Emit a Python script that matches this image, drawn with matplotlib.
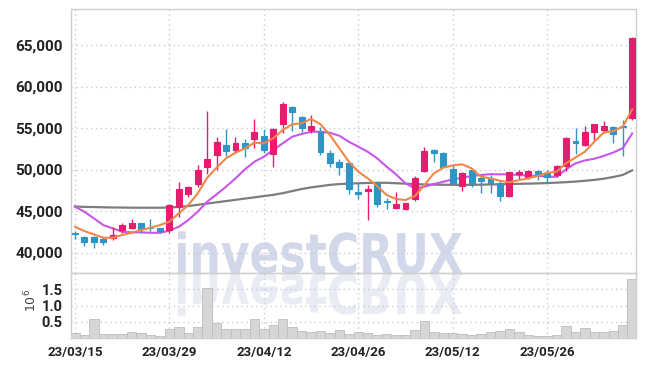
import matplotlib
matplotlib.use("Agg")
import matplotlib.pyplot as plt
import numpy as np
from matplotlib.textpath import TextPath
from matplotlib.patches import PathPatch
from matplotlib.font_manager import FontProperties
from matplotlib.transforms import Affine2D, IdentityTransform

# daily OHLC (KRW), 60 trading days
opens = [42300, 41900, 41900, 41650, 41750, 42700, 42900, 43500, 43000, 42950,
         42700, 45500, 47100, 48200, 50350, 51750, 52950, 52350, 53150, 53700,
         54050, 51850, 55500, 57550, 56300, 54800, 54500, 52000, 50950, 50750,
         47350, 47450, 48350, 46150, 45400, 45200, 46450, 49850, 52350, 52050,
         50050, 48000, 49950, 48950, 49000, 48400, 46850, 49450, 49050, 49800,
         49550, 49400, 50400, 53450, 52950, 54500, 54800, 55100, 55200, 56250]
highs = [42600, 42000, 41950, 41900, 43100, 43500, 44100, 43600, 44000, 43000,
         45800, 48500, 48050, 50550, 57000, 53950, 54850, 53950, 53650, 56100,
         54850, 55000, 58100, 57650, 56500, 56550, 55150, 52350, 51250, 50800,
         48350, 48150, 48450, 46550, 47350, 46000, 49200, 52750, 52450, 52100,
         50550, 49750, 50150, 49150, 49350, 48750, 49750, 49950, 49950, 50000,
         50000, 50500, 53900, 54950, 55300, 55500, 55850, 55250, 55950, 65950]
lows = [41600, 40800, 40500, 40900, 41500, 42400, 42800, 42400, 42600, 42300,
        42400, 44300, 46700, 47900, 49450, 49950, 51650, 51950, 51550, 52600,
        51950, 50350, 54350, 54650, 54550, 54350, 51750, 50250, 49400, 47000,
        46500, 43900, 45500, 45200, 45300, 45150, 46200, 49750, 50950, 50250,
        48100, 47450, 47900, 47150, 47150, 46200, 46700, 48800, 48800, 48750,
        48350, 49150, 49850, 51850, 52800, 53550, 54450, 53200, 51650, 56000]
closes = [42200, 41300, 41300, 41300, 42100, 43300, 43500, 42850, 42900, 42600,
          45700, 47600, 47850, 49950, 51250, 53350, 52250, 53150, 52600, 54500,
          52350, 54900, 57900, 56950, 54950, 55250, 52150, 50800, 50350, 47650,
          47050, 47650, 45850, 46100, 45850, 45950, 48950, 52250, 52000, 50350,
          48350, 49550, 48350, 48650, 48400, 46850, 49650, 49750, 49800, 49350,
          49150, 50450, 53750, 53150, 54500, 55450, 55200, 54300, 55150, 65900]
# volume, millions of shares
volumes = [0.16, 0.10, 0.57, 0.13, 0.13, 0.13, 0.20, 0.16, 0.10, 0.06,
           0.28, 0.35, 0.16, 0.35, 1.55, 0.47, 0.28, 0.28, 0.28, 0.60,
           0.28, 0.41, 0.60, 0.35, 0.23, 0.20, 0.21, 0.15, 0.26, 0.13,
           0.17, 0.15, 0.08, 0.11, 0.10, 0.10, 0.26, 0.52, 0.19, 0.15,
           0.15, 0.11, 0.08, 0.11, 0.17, 0.21, 0.27, 0.20, 0.08, 0.07,
           0.07, 0.08, 0.36, 0.20, 0.32, 0.17, 0.17, 0.21, 0.39, 1.83]
# moving averages as drawn
ma5 = [43110, 42590, 42190, 41780, 41780, 42110, 42380, 42710, 42990, 43310,
       43710, 44720, 45720, 47130, 49000, 50220, 51350, 52030, 52550, 53230,
       53160, 53760, 54760, 55450, 55570, 56090, 55450, 54160, 52550, 50950,
       49740, 48940, 48010, 46930, 46450, 46330, 46810, 48130, 49540, 50220,
       50500, 50630, 50140, 49130, 48940, 48650, 48460, 48730, 48940, 49220,
       49610, 49740, 50750, 51450, 52150, 53350, 54480, 54640, 55160, 57250]
ma20 = [45520, 44920, 44120, 43310, 42910, 42510, 42430, 42430, 42380, 42380,
        42630, 43110, 43910, 44920, 46120, 47010, 47930, 48940, 50020, 50940,
        51540, 52350, 53160, 53950, 54280, 54550, 54550, 54430, 54070, 53350,
        52750, 52140, 51350, 50340, 49420, 48340, 47730, 47930, 48250, 48530,
        48820, 49010, 49220, 49340, 49440, 49420, 49420, 49340, 49250, 49250,
        49130, 49130, 50020, 50750, 51100, 51300, 51650, 52050, 52570, 54340]
ma60 = [45550, 45500, 45480, 45450, 45430, 45420, 45400, 45400, 45400, 45400,
        45420, 45500, 45600, 45750, 45900, 46050, 46200, 46350, 46500, 46650,
        46800, 46950, 47150, 47400, 47650, 47850, 48000, 48150, 48250, 48300,
        48350, 48380, 48400, 48400, 48350, 48300, 48250, 48200, 48180, 48170,
        48160, 48150, 48150, 48180, 48200, 48220, 48250, 48280, 48300, 48330,
        48370, 48420, 48480, 48550, 48650, 48750, 48900, 49100, 49350, 49900]

tick_pos = [0, 10, 20, 30, 40, 50]
tick_labels = ["23/03/15", "23/03/29", "23/04/12", "23/04/26", "23/05/12", "23/05/26"]
price_ticks = [40000, 45000, 50000, 55000, 60000, 65000]
vol_ticks = [0.5, 1.0, 1.5]

UP = "#e81c6e"
DOWN = "#2e95c6"
GRID = "#c9cbdc"
SPINE = "#cfcfcf"
TXT = "#222222"
lab_font = ["Roboto", "DejaVu Sans"]

fig = plt.figure(figsize=(6.45, 3.66), dpi=100)
ax = fig.add_axes([0.110, 0.254, 0.876, 0.7214])
axv = fig.add_axes([0.110, 0.0765, 0.876, 0.1775], sharex=ax)

# watermark and its reflection, in pixels
prop = FontProperties(family="DejaVu Sans", weight="bold")
tp = TextPath((0, 0), "investCRUX", size=50, prop=prop)
ext = tp.get_extents()
sx = 284 / ext.width
sy = 40 / 36.5
base = 366 - 273
wm = Affine2D().translate(-ext.x0, 0).scale(sx, sy).translate(178, base)
fig.patches.append(PathPatch(tp, transform=wm + IdentityTransform(), color="#d2d7ea",
                             lw=0, zorder=-2, figure=fig))
wm_r = Affine2D().translate(-ext.x0, 0).scale(sx, -sy).translate(178, base - 1)
fig.patches.append(PathPatch(tp, transform=wm_r + IdentityTransform(), color="#eaecf4",
                             lw=0, zorder=-2, figure=fig))

x = np.arange(len(closes))
o = np.array(opens)
c = np.array(closes)
colors = [UP if cc >= oo else DOWN for oo, cc in zip(opens, closes)]

ax.vlines(x, lows, highs, colors=colors, lw=1.0, zorder=3)
ax.bar(x, np.abs(c - o), bottom=np.minimum(o, c), width=0.62, color=colors,
       edgecolor=colors, lw=0.8, zorder=4)
ax.plot(x, ma60, color="#7d7d7d", lw=1.6, zorder=2)
ax.plot(x, ma20, color="#c955ea", lw=1.5, zorder=2)
ax.plot(x, ma5, color="#ef8748", lw=1.5, zorder=5)

axv.bar(x, volumes, width=1.0, color="#d6d6d6", edgecolor="#bdbdbd", lw=0.6, zorder=3)

for a in (ax, axv):
    a.set_facecolor("none")
    a.grid(True, color=GRID, linestyle=(0, (1, 2.5)), lw=1.0)
    a.set_axisbelow(True)
    a.tick_params(length=0, colors=TXT)
    for s in a.spines.values():
        s.set_color(SPINE)
        s.set_linewidth(1.0)

ax.set_xlim(-0.42, 59.4)
ax.set_ylim(37530, 69340)
ax.set_yticks(price_ticks)
ax.set_yticklabels([f"{v:,}" for v in price_ticks], family=lab_font,
                   weight="bold", fontsize=11)
ax.set_xticks(tick_pos)
ax.tick_params(axis="x", labelbottom=False)
ax.tick_params(axis="y", pad=6)

axv.set_ylim(0, 2.0)
axv.set_yticks(vol_ticks)
axv.set_yticklabels([f"{v:.1f}" for v in vol_ticks], family=lab_font,
                    weight="bold", fontsize=10.5)
axv.set_xticks(tick_pos)
axv.set_xticklabels(tick_labels, family=lab_font, weight="bold", fontsize=9.5)
axv.tick_params(axis="x", pad=6)
axv.tick_params(axis="y", pad=6)
fig.text(0.048, 0.178, r"$10^6$", rotation=90, fontsize=9, color="#444444",
         ha="center", va="center")

fig.savefig("out.png", dpi=100)
